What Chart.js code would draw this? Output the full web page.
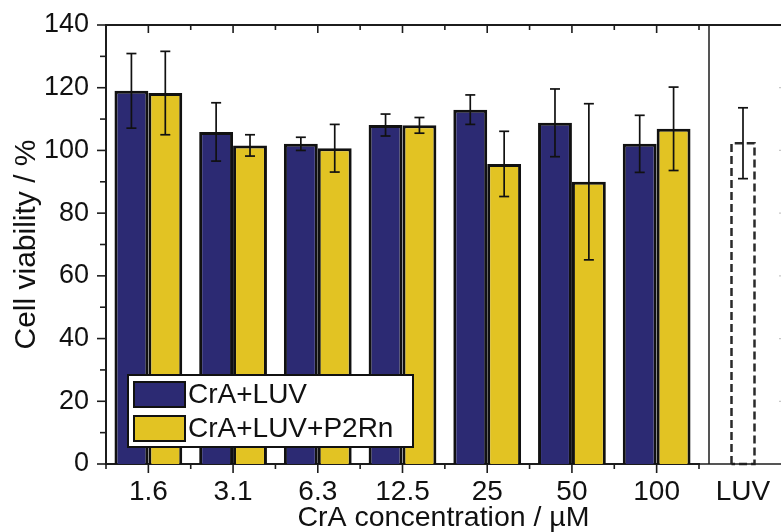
<!DOCTYPE html>
<html>
<head>
<meta charset="utf-8">
<script src="https://cdn.jsdelivr.net/npm/chart.js@4.4.1/dist/chart.umd.min.js"></script>
<style>
  html, body { margin: 0; padding: 0; background: #fff; overflow: hidden; }
  #wrap { position: relative; width: 781px; height: 532px; }
  #main { position: absolute; left: 0; top: 0; }
  #ctrl { position: absolute; left: 699px; top: 0; }
</style>
</head>
<body>
<div id="wrap">
  <canvas id="main" width="709" height="532"></canvas>
  <canvas id="ctrl" width="82" height="532"></canvas>
</div>
<script>
// CrA concentrations (µM) and viability (%) with standard deviations
const concentrations = ['1.6', '3.1', '6.3', '12.5', '25', '50', '100'];
const viabilityLUV = [119.0, 105.9, 102.1, 108.1, 113.0, 108.8, 102.1];
const errorLUV = [11.9, 9.3, 2.1, 3.5, 4.7, 10.8, 9.1];
const viabilityP2Rn = [118.3, 101.6, 100.7, 108.0, 95.7, 90.0, 106.9];
const errorP2Rn = [13.3, 3.4, 7.6, 2.5, 10.4, 24.9, 13.3];

// control panel: LUV only
const controlLabels = ['LUV'];
const controlViability = [102.3];
const controlError = [11.3];

const yMin = 0;
const yMax = 140;
const yMajorStep = 20;
const yMinorStep = 10;

const FONT = "'Liberation Sans', Arial, sans-serif";
const INK = '#111111';
const AXIS = '#1c1c1c';
const BLUE = '#2c2a73';
const YELLOW = '#e2c323';

Chart.defaults.font.family = FONT;
Chart.defaults.color = INK;

function line(ctx, x1, y1, x2, y2) {
  ctx.beginPath();
  ctx.moveTo(x1, y1);
  ctx.lineTo(x2, y2);
  ctx.stroke();
}

// keep the plot box fixed: no extra room for overhanging tick labels
function noOverhang(s) {
  s.paddingTop = 0;
  s.paddingBottom = 0;
  s.paddingLeft = 0;
  s.paddingRight = 0;
}

// whiskers on top of the bars, from each dataset's `errors` array
function drawErrorBars(chart) {
  const ctx = chart.ctx;
  const yScale = chart.scales.y;
  ctx.save();
  ctx.strokeStyle = INK;
  ctx.lineWidth = 1.7;
  chart.data.datasets.forEach((ds, i) => {
    if (!ds.errors) return;
    chart.getDatasetMeta(i).data.forEach((bar, j) => {
      const hi = yScale.getPixelForValue(ds.data[j] + ds.errors[j]);
      const lo = yScale.getPixelForValue(ds.data[j] - ds.errors[j]);
      line(ctx, bar.x, hi, bar.x, lo);
      line(ctx, bar.x - 5, hi, bar.x + 5, hi);
      line(ctx, bar.x - 5, lo, bar.x + 5, lo);
    });
  });
  ctx.restore();
}

const errorBars = {
  id: 'errorBars',
  afterDatasetsDraw(chart) { drawErrorBars(chart); }
};

// tick marks, top frame line, legend box and x title for the main panel
const mainFrame = {
  id: 'mainFrame',
  afterDraw(chart) {
    const ctx = chart.ctx;
    const { left, top, bottom } = chart.chartArea;
    const x = chart.scales.x;
    const y = chart.scales.y;
    ctx.save();
    ctx.strokeStyle = AXIS;

    ctx.lineWidth = 2;
    line(ctx, left - 1, top, chart.width, top);

    ctx.lineWidth = 1.6;
    for (let v = yMin; v <= yMax; v += yMinorStep) {
      const py = y.getPixelForValue(v);
      const len = v % yMajorStep === 0 ? 9 : 6;
      line(ctx, left - len, py, left, py);
    }
    for (let i = 0; i < concentrations.length; i++) {
      const px = x.getPixelForValue(i);
      line(ctx, px, bottom, px, bottom + 9);
      line(ctx, px, top, px, top + 8);
    }
    for (let i = 0; i <= concentrations.length; i++) {
      const px = x.getPixelForValue(i - 0.5);
      line(ctx, px, bottom, px, bottom + 5);
      line(ctx, px, top, px, top + 5);
    }

    // legend
    const bx = left + 22, by = bottom - 89, bw = 285, bh = 72;
    ctx.fillStyle = '#ffffff';
    ctx.fillRect(bx, by, bw, bh);
    ctx.lineWidth = 2;
    ctx.strokeStyle = INK;
    ctx.strokeRect(bx, by, bw, bh);
    ctx.font = '28px ' + FONT;
    ctx.textBaseline = 'middle';
    ctx.textAlign = 'left';
    chart.data.datasets.forEach((ds, i) => {
      const sy = by + 7 + i * 34;
      ctx.fillStyle = ds.backgroundColor;
      ctx.fillRect(bx + 6, sy, 51, 25);
      ctx.strokeRect(bx + 6, sy, 51, 25);
      ctx.fillStyle = INK;
      ctx.fillText(ds.label, bx + 60, sy + 13);
    });

    // x title is centred under both panels
    ctx.font = '28.5px ' + FONT;
    ctx.textAlign = 'center';
    ctx.textBaseline = 'alphabetic';
    ctx.fillStyle = INK;
    ctx.fillText('CrA concentration / µM', (left + 781) / 2, 526);
    ctx.restore();
  }
};

// dashed outline for the control bar, plus its frame lines
const controlFrame = {
  id: 'controlFrame',
  afterDatasetsDraw(chart) {
    const ctx = chart.ctx;
    const bar = chart.getDatasetMeta(0).data[0];
    const half = bar.width / 2;
    ctx.save();
    ctx.strokeStyle = '#2a2a2a';
    ctx.lineWidth = 2.5;
    ctx.setLineDash([8, 4]);
    ctx.beginPath();
    ctx.moveTo(bar.x - half, bar.base);
    ctx.lineTo(bar.x - half, bar.y);
    ctx.lineTo(bar.x + half, bar.y);
    ctx.lineTo(bar.x + half, bar.base);
    ctx.lineTo(bar.x - half, bar.base);
    ctx.stroke();
    ctx.restore();
    drawErrorBars(chart);
  },
  afterDraw(chart) {
    const ctx = chart.ctx;
    const { left, top, bottom } = chart.chartArea;
    const y = chart.scales.y;
    ctx.save();
    ctx.strokeStyle = AXIS;
    ctx.lineWidth = 2;
    line(ctx, 0, top, chart.width, top);
    ctx.lineWidth = 1.5;
    line(ctx, 0, bottom, chart.width, bottom);
    line(ctx, left, top, left, bottom);
    // ends of the right axis ticks at the edge
    ctx.strokeStyle = '#c8c8c8';
    ctx.lineWidth = 1.2;
    for (let v = yMajorStep; v < yMax; v += yMajorStep) {
      const py = y.getPixelForValue(v);
      line(ctx, chart.width - 2, py, chart.width, py);
    }
    ctx.restore();
  }
};

new Chart(document.getElementById('main'), {
  type: 'bar',
  data: {
    labels: concentrations,
    datasets: [
      {
        label: 'CrA+LUV',
        data: viabilityLUV,
        errors: errorLUV,
        backgroundColor: BLUE,
        borderColor: INK,
        borderWidth: 3,
        categoryPercentage: 0.8,
        barPercentage: 1.0
      },
      {
        label: 'CrA+LUV+P2Rn',
        data: viabilityP2Rn,
        errors: errorP2Rn,
        backgroundColor: YELLOW,
        borderColor: INK,
        borderWidth: 3,
        categoryPercentage: 0.8,
        barPercentage: 1.0
      }
    ]
  },
  options: {
    responsive: false,
    animation: false,
    layout: { padding: { top: 25, right: 10, left: 0, bottom: 0 } },
    plugins: { legend: { display: false }, tooltip: { enabled: false } },
    scales: {
      x: {
        grid: { display: false, drawTicks: false },
        border: { display: true, color: AXIS, width: 2 },
        ticks: { font: { size: 28 }, color: INK, padding: 11, maxRotation: 0, autoSkip: false },
        afterFit: s => { s.height = 68; noOverhang(s); }
      },
      y: {
        min: yMin,
        max: yMax,
        grid: { display: false, drawTicks: false },
        border: { display: true, color: AXIS, width: 2 },
        ticks: { stepSize: yMajorStep, font: { size: 27 }, color: INK, padding: 17 },
        title: { display: true, text: 'Cell viability / %', font: { size: 30 }, color: INK, padding: { top: 9, bottom: 0 } },
        afterFit: s => { s.width = 106; noOverhang(s); }
      }
    }
  },
  plugins: [errorBars, mainFrame]
});

new Chart(document.getElementById('ctrl'), {
  type: 'bar',
  data: {
    labels: controlLabels,
    datasets: [
      {
        label: 'LUV',
        data: controlViability,
        errors: controlError,
        backgroundColor: 'rgba(255,255,255,0)',
        borderWidth: 0,
        barThickness: 23
      }
    ]
  },
  options: {
    responsive: false,
    animation: false,
    layout: { padding: { top: 25, right: 4, left: 10, bottom: 0 } },
    plugins: { legend: { display: false }, tooltip: { enabled: false } },
    scales: {
      x: {
        grid: { display: false, drawTicks: false },
        border: { display: false },
        ticks: { font: { size: 28 }, color: INK, padding: 11, maxRotation: 0 },
        afterFit: s => { s.height = 68; noOverhang(s); }
      },
      y: { display: false, min: yMin, max: yMax }
    }
  },
  plugins: [controlFrame]
});
</script>
</body>
</html>
